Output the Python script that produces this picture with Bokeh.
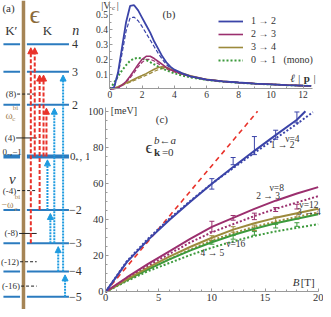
from bokeh.plotting import figure
from bokeh.layouts import row, column
from bokeh.models import (Range1d, LinearAxis, FixedTicker, Arrow, NormalHead,
                          ColumnDataSource, Legend, LegendItem, Whisker, TeeHead)
from bokeh.core.properties import value
from bokeh.embed import file_html
from bokeh.resources import INLINE

SERIF = "Liberation Serif"

# ---------------- data: panel (a) ----------------
levels_n = [4, 3, 2, 0, -2, -3, -4, -5]
levels_E = [11.5, 8.7, 5.3, 0.0, -5.5, -8.9, -11.8, -14.4]
level_labels = ["4", "3", "2", "0\u208a, 1", "\u22122", "\u22123", "\u22124", "\u22125"]

nu_labels = ["(8)", "(4)", "(-4)", "(-8)", "(-12)", "(-16)"]
nu_E = [6.4, 1.9, -3.5, -7.9, -10.8, -13.3]

red_from = [-3, 0, -2, 0, 0]
red_to = [4, 4, 3, 3, 2]
cyan_from = [-2, -3, -3, -4, -4, -5]
cyan_to = [0, -2, 2, -3, 3, -4]

# ---------------- data: panel (b) ----------------
lp = [0, 0.25, 0.5, 0.75, 1.0, 1.25, 1.5, 1.75, 2.0, 2.25, 2.5, 2.75, 3.0, 3.25,
      3.5, 3.75, 4.0, 4.5, 5, 6, 7, 8, 9, 10, 11, 12, 12.5]
v12 = [0, 0.01, 0.11, 0.28, 0.45, 0.56, 0.565, 0.53, 0.48, 0.43, 0.38, 0.32, 0.27, 0.22,
       0.18, 0.15, 0.13, 0.105, 0.085, 0.062, 0.051, 0.043, 0.036, 0.031, 0.026, 0.022, 0.021]
v12d = [0, 0.008, 0.09, 0.24, 0.39, 0.48, 0.485, 0.46, 0.42, 0.375, 0.33, 0.285, 0.24, 0.2,
        0.165, 0.14, 0.122, 0.1, 0.083, 0.061, 0.05, 0.042, 0.035, 0.03, 0.025, 0.021, 0.02]
v23 = [0, 0.001, 0.008, 0.025, 0.05, 0.085, 0.125, 0.165, 0.2, 0.22, 0.22, 0.205, 0.185, 0.165,
       0.145, 0.13, 0.12, 0.1, 0.085, 0.063, 0.051, 0.043, 0.036, 0.031, 0.026, 0.022, 0.021]
v23d = [0, 0.001, 0.007, 0.022, 0.045, 0.075, 0.11, 0.148, 0.18, 0.2, 0.2, 0.188, 0.17, 0.152,
        0.135, 0.123, 0.115, 0.097, 0.082, 0.062, 0.05, 0.042, 0.035, 0.03, 0.025, 0.021, 0.02]
v34 = [0, 0.005, 0.015, 0.028, 0.04, 0.052, 0.065, 0.078, 0.09, 0.103, 0.118, 0.133, 0.145, 0.15,
       0.145, 0.135, 0.125, 0.105, 0.088, 0.064, 0.052, 0.043, 0.036, 0.031, 0.026, 0.022, 0.021]
v34d = [0, 0.004, 0.013, 0.024, 0.035, 0.046, 0.057, 0.068, 0.08, 0.092, 0.105, 0.118, 0.13, 0.137,
        0.138, 0.13, 0.12, 0.1, 0.085, 0.063, 0.051, 0.042, 0.035, 0.03, 0.025, 0.021, 0.02]
v01 = [0, 0.04, 0.085, 0.125, 0.16, 0.19, 0.205, 0.21, 0.205, 0.195, 0.18, 0.165, 0.15, 0.138,
       0.126, 0.115, 0.105, 0.09, 0.078, 0.06, 0.049, 0.041, 0.035, 0.03, 0.025, 0.021, 0.02]

# ---------------- data: panel (c) ----------------
B = [0, 2, 4, 6, 8, 10, 12, 14, 16, 18, 20]
red_B = [0, 14.3]
red_E = [0, 100]
blue_B = [0, 2, 4, 6, 8, 10, 12, 14, 16, 18, 18.8]
blue_E = [0, 16.5, 28.8, 39.8, 50.1, 59.9, 69.1, 78.1, 86.8, 95.3, 100]
blued_B = [0, 2, 4, 6, 8, 10, 12, 14, 16, 18, 19.5]
blued_E = [0, 17, 29.5, 40.5, 50.5, 60, 68.5, 77, 85, 93, 99.5]
mag_E = [0, 8, 15.5, 22.5, 29.5, 36, 41, 46, 50.5, 54.5, 58]
magd_E = [0, 7.5, 14.5, 21, 27.5, 33, 37.5, 42, 46, 49.5, 53]
oli_E = [0, 7, 13.5, 19.5, 25, 30, 34.5, 38, 41, 43.5, 46]
olid_E = [0, 6.5, 12.5, 18, 23.5, 28.5, 32.5, 36, 39, 41.5, 44]
grn_E = [0, 6.5, 12.5, 18, 23, 27.5, 31.5, 35, 38, 40.5, 43]
grnd_E = [0, 6, 11.5, 16, 20.5, 24.5, 28, 31, 33.5, 35.5, 37.5]

err_B = [10, 12, 14, 16, 18]
blue_pts = [59.8, 72.4, 81.0, 87.0, 96.6]
blue_err = [2.9, 2.0, 5.0, 2.5, 3.0]
mag_pts = [36.2, 41.0, 41.8, 45.6, 47.2]
mag_err = [2.9, 1.3, 1.8, 1.1, 1.3]
oli_pts = [29.6, 34.6, 35.5, 40.0, 41.8]
oli_err = [1.5, 1.5, 1.5, 1.5, 1.5]
grn_pts = [27.4, 30.2, 32.4, 36.4, 37.3]
grn_err = [1.0, 1.0, 1.0, 1.0, 1.0]

# ---------------- styles ----------------
C_LEV = "#2b7bbf"
C_BROWN = "#a58455"
C_RED = "#e8322a"
C_CYAN = "#1e9be0"
C_BLUE = "#3b44a8"
C_MAG = "#9b2f6e"
C_OLI = "#9c8a3c"
C_GRN = "#3c9a3c"
C_AX = "#9a9a9a"
C_TXT = "#333333"


def label(p, x, y, s, size, color=C_TXT, align="left", baseline="middle",
          style="normal", font=SERIF):
    p.text(x=[x], y=[y], text=[s], text_font=value(font),
           text_font_size=value(f"{size}px"), text_color=color,
           text_align=align, text_baseline=baseline, text_font_style=style)


def base_fig(w, h, xr, yr):
    p = figure(width=w, height=h, x_range=Range1d(*xr), y_range=Range1d(*yr),
               output_backend="svg", toolbar_location=None,
               x_axis_location=None, y_axis_location=None, min_border=0)
    p.outline_line_color = None
    p.grid.visible = False
    return p


def style_axis(ax, size=9.5):
    ax.axis_line_color = C_AX
    ax.axis_line_width = 1
    ax.major_tick_line_color = C_AX
    ax.minor_tick_line_color = C_AX
    ax.major_tick_in = 3
    ax.major_tick_out = 0
    ax.minor_tick_in = 2
    ax.minor_tick_out = 0
    ax.major_label_text_font = SERIF
    ax.major_label_text_font_size = f"{size}px"
    ax.major_label_text_color = C_TXT
    ax.major_label_standoff = 2


# ================= panel (a) =================
pa = base_fig(89, 309, (0, 91), (-15.7, 16.0))
lw = [4 if n == 0 else 2 for n in levels_n]
lsrc = ColumnDataSource(dict(E=levels_E, lw=lw, lab=level_labels))
pa.segment(x0=3, x1=20, y0="E", y1="E", line_width="lw", line_color=C_LEV, source=lsrc)
pa.segment(x0=27, x1=70, y0="E", y1="E", line_width="lw", line_color=C_LEV, source=lsrc)
pa.segment(x0=[23.5], x1=[23.5], y0=[-15.7], y1=[16.0], line_width=3.5, line_color=C_BROWN)

for E, s in zip(levels_E, level_labels):
    x = 73 if not s.startswith("\u2212") else 70
    if s.startswith("0"):
        x = 71
    label(pa, x, E, s, 12 if len(s) < 3 else 11)
label(pa, 2, 0.5, "0\u208b,\u22121", 9)

nu_text_end = [16, 15, 16, 18, 19, 20]
nu_dash = ["dashed", "solid", "dashed", "solid", "dashed", "dashed"]
for s, E, xe, d in zip(nu_labels, nu_E, nu_text_end, nu_dash):
    label(pa, xe, E, s, 9, align="right")
    pa.segment(x0=[xe + 1], x1=[37], y0=[E], y1=[E], line_color="#222222",
               line_width=1, line_dash="solid" if d == "solid" else "3 2")

red_x = [31, 35, 40, 44, 47]
cyan_x = [48, 51, 55, 59, 64, 66]
Emap = dict(zip(levels_n, levels_E))
rsrc = ColumnDataSource(dict(x=red_x, y0=[Emap[n] for n in red_from],
                             y1=[Emap[n] - 0.35 for n in red_to]))
csrc = ColumnDataSource(dict(x=cyan_x, y0=[Emap[n] for n in cyan_from],
                             y1=[Emap[n] - 0.35 for n in cyan_to]))
pa.add_layout(Arrow(source=rsrc, x_start="x", y_start="y0", x_end="x", y_end="y1",
                    line_color=C_RED, line_width=2, line_dash="4 2",
                    end=NormalHead(size=6, fill_color=C_RED, line_color=C_RED, line_width=1)))
pa.add_layout(Arrow(source=csrc, x_start="x", y_start="y0", x_end="x", y_end="y1",
                    line_color=C_CYAN, line_width=2, line_dash="2 1",
                    end=NormalHead(size=6, fill_color=C_CYAN, line_color=C_CYAN, line_width=1)))

label(pa, 2, 15.2, "(a)", 11)
label(pa, 35, 14.6, "\u03f5", 26, color="#8b6b3a", align="center")
label(pa, 11, 12.9, "K\u2032", 13, align="center")
label(pa, 48, 12.9, "K", 13, align="center")
label(pa, 77, 12.9, "n", 14, align="center", style="italic")
label(pa, 12, -2.3, "\u03bd", 15, align="center", style="italic")
label(pa, 5, 4.3, "\u03c9", 11, color=C_BROWN)
label(pa, 12, 3.8, "c", 7, color=C_BROWN)
label(pa, 12.5, 5.0, "bi", 7, color=C_BROWN)
label(pa, 1, -4.9, "\u2212\u03c9", 10, color=C_BROWN)
label(pa, 14, -5.4, "c", 7, color=C_BROWN)
label(pa, 14.5, -4.2, "bi", 7, color=C_BROWN)

# ================= panel (b) =================
pb = base_fig(234, 101, (-1.273, 13.27), (-0.0852, 0.597))
xa = LinearAxis(fixed_location=0, bounds=(0, 12.6),
                ticker=FixedTicker(ticks=[0, 2, 4, 6, 8, 10, 12],
                                   minor_ticks=[1, 3, 5, 7, 9, 11]))
ya = LinearAxis(fixed_location=0, bounds=(0, 0.59),
                ticker=FixedTicker(ticks=[0.1, 0.2, 0.3, 0.4, 0.5],
                                   minor_ticks=[0.05, 0.15, 0.25, 0.35, 0.45, 0.55]))
style_axis(xa)
style_axis(ya)
pb.add_layout(xa, "below")
pb.add_layout(ya, "left")

pb.line(lp, v12d, line_color=C_BLUE, line_width=1.2, line_dash="4 2")
pb.line(lp, v23d, line_color=C_MAG, line_width=1.2, line_dash="4 2")
pb.line(lp, v34d, line_color=C_OLI, line_width=1.2, line_dash="4 2")
r01 = pb.line(lp, v01, line_color=C_GRN, line_width=2, line_dash="2 2")
r34 = pb.line(lp, v34, line_color=C_OLI, line_width=1.6)
r23 = pb.line(lp, v23, line_color=C_MAG, line_width=1.6)
r12 = pb.line(lp, v12, line_color=C_BLUE, line_width=1.8)

leg = Legend(items=[LegendItem(label="1 \u2192 2", renderers=[r12]),
                    LegendItem(label="2 \u2192 3", renderers=[r23]),
                    LegendItem(label="3 \u2192 4", renderers=[r34]),
                    LegendItem(label="0 \u2192 1   (mono)", renderers=[r01])],
             location=(129, 36), padding=0, spacing=2, margin=0,
             glyph_width=25, glyph_height=10, label_height=10, label_standoff=8,
             label_text_font=SERIF, label_text_font_size="10px",
             label_text_color=C_TXT, border_line_color=None,
             background_fill_alpha=0)
pb.add_layout(leg, "center")

label(pb, 3.27, 0.505, "(b)", 11)
label(pb, -0.55, 0.565, "|V", 10)
label(pb, 0.13, 0.545, "c", 7)
label(pb, 0.42, 0.565, "|", 10)
label(pb, 11.2, 0.075, "\u2113 |", 11, style="italic")
label(pb, 12.05, 0.075, "p", 11, style="bold")
label(pb, 12.65, 0.075, "|", 11)

# ================= panel (c) =================
pc = base_fig(234, 208, (-1.51, 20.5), (-9.73, 105.4))
xc = LinearAxis(fixed_location=0, bounds=(0, 20),
                ticker=FixedTicker(ticks=[0, 5, 10, 15, 20],
                                   minor_ticks=[b for b in range(0, 21) if b % 5]))
yc = LinearAxis(fixed_location=0, bounds=(0, 102),
                ticker=FixedTicker(ticks=[0, 20, 40, 60, 80, 100],
                                   minor_ticks=[v for v in range(0, 101, 5) if v % 20]))
style_axis(xc, 10.5)
style_axis(yc, 10.5)
pc.add_layout(xc, "below")
pc.add_layout(yc, "left")

pc.line(red_B, red_E, line_color=C_RED, line_width=1.6, line_dash="5 4")
pc.line(B, grnd_E, line_color=C_GRN, line_width=2, line_dash="2 2")
pc.line(B, olid_E, line_color=C_OLI, line_width=2, line_dash="2 2")
pc.line(B, magd_E, line_color=C_MAG, line_width=2, line_dash="2 2")
pc.line(blued_B, blued_E, line_color=C_BLUE, line_width=2, line_dash="2 2")
pc.line(B, grn_E, line_color=C_GRN, line_width=2)
pc.line(B, oli_E, line_color=C_OLI, line_width=2)
pc.line(B, mag_E, line_color=C_MAG, line_width=2)
pc.line(blue_B, blue_E, line_color=C_BLUE, line_width=2)

for pts, err, col in [(blue_pts, blue_err, C_BLUE), (mag_pts, mag_err, C_MAG),
                      (oli_pts, oli_err, C_OLI), (grn_pts, grn_err, C_GRN)]:
    src = ColumnDataSource(dict(B=err_B, hi=[v + e for v, e in zip(pts, err)],
                                lo=[v - e for v, e in zip(pts, err)]))
    pc.add_layout(Whisker(source=src, base="B", upper="hi", lower="lo",
                          line_color=col, line_width=1,
                          upper_head=TeeHead(size=5, line_color=col, line_width=1),
                          lower_head=TeeHead(size=5, line_color=col, line_width=1)))

label(pc, 5.3, 95.7, "(c)", 11, align="center")
label(pc, 0.5, 100.5, "[meV]", 10)
label(pc, 17.6, 5.4, "B", 11, style="italic")
label(pc, 18.35, 5.4, "[T]", 11)
label(pc, 4.08, 79.8, "\u03f5", 17, align="center")
label(pc, 4.55, 84.3, "b\u2190a", 11, style="italic")
label(pc, 4.55, 77.6, "k", 11, style="bold")
label(pc, 5.3, 77.6, "=0", 11)
label(pc, 17.57, 84.9, "\u03bd=4", 9.5, align="center")
label(pc, 16.65, 81.1, "1 \u2192 2", 9.5, align="center")
label(pc, 16.1, 57.3, "\u03bd=8", 9.5, align="center")
label(pc, 15.28, 53.0, "2 \u2192 3", 9.5, align="center")
label(pc, 19.13, 48.1, "\u03bd=12", 9.5, align="center")
label(pc, 19.13, 44.3, "3 \u2192 4", 9.5, align="center")
label(pc, 12.25, 26.5, "\u03bd=16", 9.5, align="center")
label(pc, 10.05, 21.6, "4 \u2192 5", 9.5, align="center")

layout = row(pa, column(pb, pc))
open("out.html", "w").write(file_html(layout, INLINE))
